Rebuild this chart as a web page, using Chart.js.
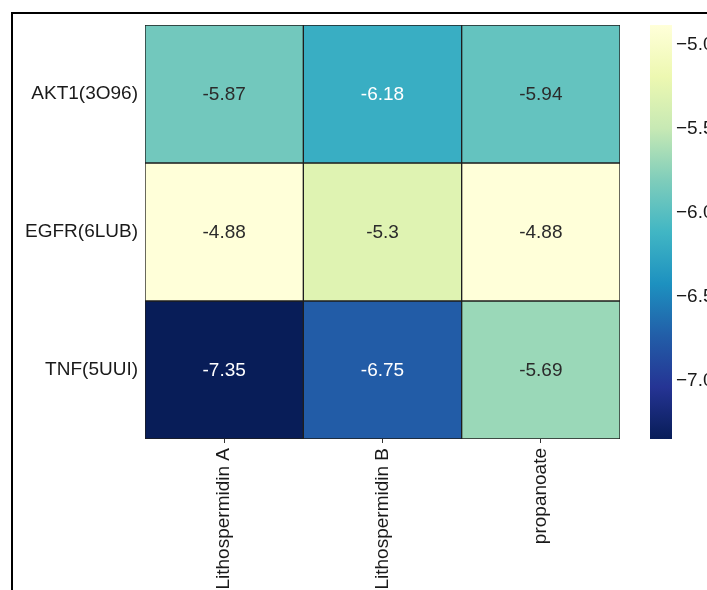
<!DOCTYPE html>
<html>
<head>
<meta charset="utf-8">
<script src="https://cdn.jsdelivr.net/npm/chart.js@4.4.0/dist/chart.umd.min.js"></script>
<style>
  html, body { margin: 0; padding: 0; background: #fff; overflow: hidden; }
  #wrap { position: relative; width: 707px; height: 590px; overflow: hidden; }
  #frame { position: absolute; left: 11px; top: 12px; width: 800px; height: 700px;
           border-left: 2px solid #000; border-top: 2px solid #000; }
  #heat { position: absolute; left: 0; top: 0; }
  #cbar { position: absolute; left: 640px; top: 0; }
</style>
</head>
<body>
<div id="wrap">
  <div id="frame"></div>
  <canvas id="heat" width="707" height="590"></canvas>
  <canvas id="cbar" width="67" height="590"></canvas>
</div>
<script>
// Docking scores (kcal/mol): rows are protein targets, columns are compounds
const targets = ['AKT1(3O96)', 'EGFR(6LUB)', 'TNF(5UUI)'];
const compounds = ['Lithospermidin A', 'Lithospermidin B', 'propanoate'];
const akt1 = [-5.87, -6.18, -5.94];
const egfr = [-4.88, -5.3, -4.88];
const tnf = [-7.35, -6.75, -5.69];
const scores = [akt1, egfr, tnf];
const colorbarTicks = [-7.0, -6.5, -6.0, -5.5, -5.0];
const vmin = -7.35;
const vmax = -4.88;

// YlGnBu palette; light end maps to the largest score
const YLGNBU = ['#ffffd9', '#edf8b1', '#c7e9b4', '#7fcdbb', '#41b6c4',
                '#1d91c0', '#225ea8', '#253494', '#081d58'];
const FONT = { family: '"Liberation Sans", Arial, sans-serif', size: 19 };
const LABEL_COLOR = '#1a1a1a';

function hexToRgb(h) {
  const n = parseInt(h.slice(1), 16);
  return [(n >> 16) & 255, (n >> 8) & 255, n & 255];
}
function rgbOf(v) {
  const t = Math.min(1, Math.max(0, (vmax - v) / (vmax - vmin)));
  const s = t * (YLGNBU.length - 1);
  const i = Math.min(YLGNBU.length - 2, Math.floor(s));
  const f = s - i;
  const a = hexToRgb(YLGNBU[i]), b = hexToRgb(YLGNBU[i + 1]);
  return a.map((x, k) => Math.round(x + (b[k] - x) * f));
}
function cmap(v) {
  const c = rgbOf(v);
  return `rgb(${c[0]},${c[1]},${c[2]})`;
}
function textColor(v) {
  const lin = rgbOf(v).map(x => {
    x /= 255;
    return x <= 0.03928 ? x / 12.92 : Math.pow((x + 0.055) / 1.055, 2.4);
  });
  const lum = 0.2126 * lin[0] + 0.7152 * lin[1] + 0.0722 * lin[2];
  return lum > 0.408 ? '#2b2b2b' : '#ffffff';
}

// Writes each score in the middle of its cell
const cellLabels = {
  id: 'cellLabels',
  afterDatasetsDraw(chart) {
    const ctx = chart.ctx;
    ctx.save();
    ctx.font = `${FONT.size}px ${FONT.family}`;
    ctx.textAlign = 'center';
    ctx.textBaseline = 'middle';
    chart.data.datasets.forEach((ds, r) => {
      chart.getDatasetMeta(r).data.forEach((bar, c) => {
        const v = scores[r][c];
        const p = bar.getCenterPoint();
        ctx.fillStyle = textColor(v);
        ctx.fillText(String(v), p.x, p.y + 1);
      });
    });
    ctx.restore();
  }
};

new Chart(document.getElementById('heat'), {
  type: 'bar',
  data: {
    labels: compounds,
    datasets: targets.map((name, r) => ({
      label: name,
      data: scores[r].map(() => [r, r + 1]),
      grouped: false,
      backgroundColor: scores[r].map(cmap),
      borderColor: '#1e1e1e',
      borderWidth: 1,
      borderSkipped: false,
      barPercentage: 1,
      categoryPercentage: 1
    }))
  },
  options: {
    responsive: false,
    devicePixelRatio: 1,
    animation: false,
    layout: { padding: { left: 0, top: 25, right: 87, bottom: 0 } },
    plugins: { legend: { display: false }, tooltip: { enabled: false } },
    scales: {
      x: {
        grid: { display: true, drawOnChartArea: false, drawTicks: true, tickLength: 4,
                offset: false, color: '#333' },
        border: { display: false },
        ticks: { minRotation: 90, maxRotation: 90, autoSkip: false, padding: 5,
                 font: FONT, color: LABEL_COLOR },
        afterFit(s) { s.height = 151; }
      },
      y: {
        min: 0, max: 3, reverse: true,
        grid: { display: false, tickLength: 0 },
        border: { display: false },
        afterBuildTicks(s) { s.ticks = targets.map((_, i) => ({ value: i + 0.5 })); },
        ticks: { callback: (v, i) => targets[i], padding: 7, font: FONT, color: LABEL_COLOR },
        afterFit(s) { s.width = 145; }
      }
    }
  },
  plugins: [cellLabels]
});

// Colour bar: a single floating bar spanning the score range, filled with the palette
new Chart(document.getElementById('cbar'), {
  type: 'bar',
  data: {
    labels: [''],
    datasets: [{
      data: [[vmin, vmax]],
      backgroundColor(ctx) {
        const a = ctx.chart.chartArea;
        if (!a) return YLGNBU[4];
        const g = ctx.chart.ctx.createLinearGradient(0, a.bottom, 0, a.top);
        const n = YLGNBU.length;
        YLGNBU.forEach((_, i) => g.addColorStop(i / (n - 1), YLGNBU[n - 1 - i]));
        return g;
      },
      borderWidth: 0,
      barPercentage: 1,
      categoryPercentage: 1
    }]
  },
  options: {
    responsive: false,
    devicePixelRatio: 1,
    animation: false,
    layout: { padding: { left: 10, top: 25, right: 0, bottom: 151 } },
    plugins: { legend: { display: false }, tooltip: { enabled: false } },
    scales: {
      x: { display: false },
      y: {
        position: 'right',
        min: vmin, max: vmax,
        grid: { display: false, tickLength: 0 },
        border: { display: false },
        afterBuildTicks(s) { s.ticks = colorbarTicks.map(v => ({ value: v })); },
        ticks: { callback: v => v.toFixed(1).replace('-', '\u2212'), padding: 4,
                 font: FONT, color: LABEL_COLOR },
        afterFit(s) { s.width = 35; }
      }
    }
  }
});
</script>
</body>
</html>
